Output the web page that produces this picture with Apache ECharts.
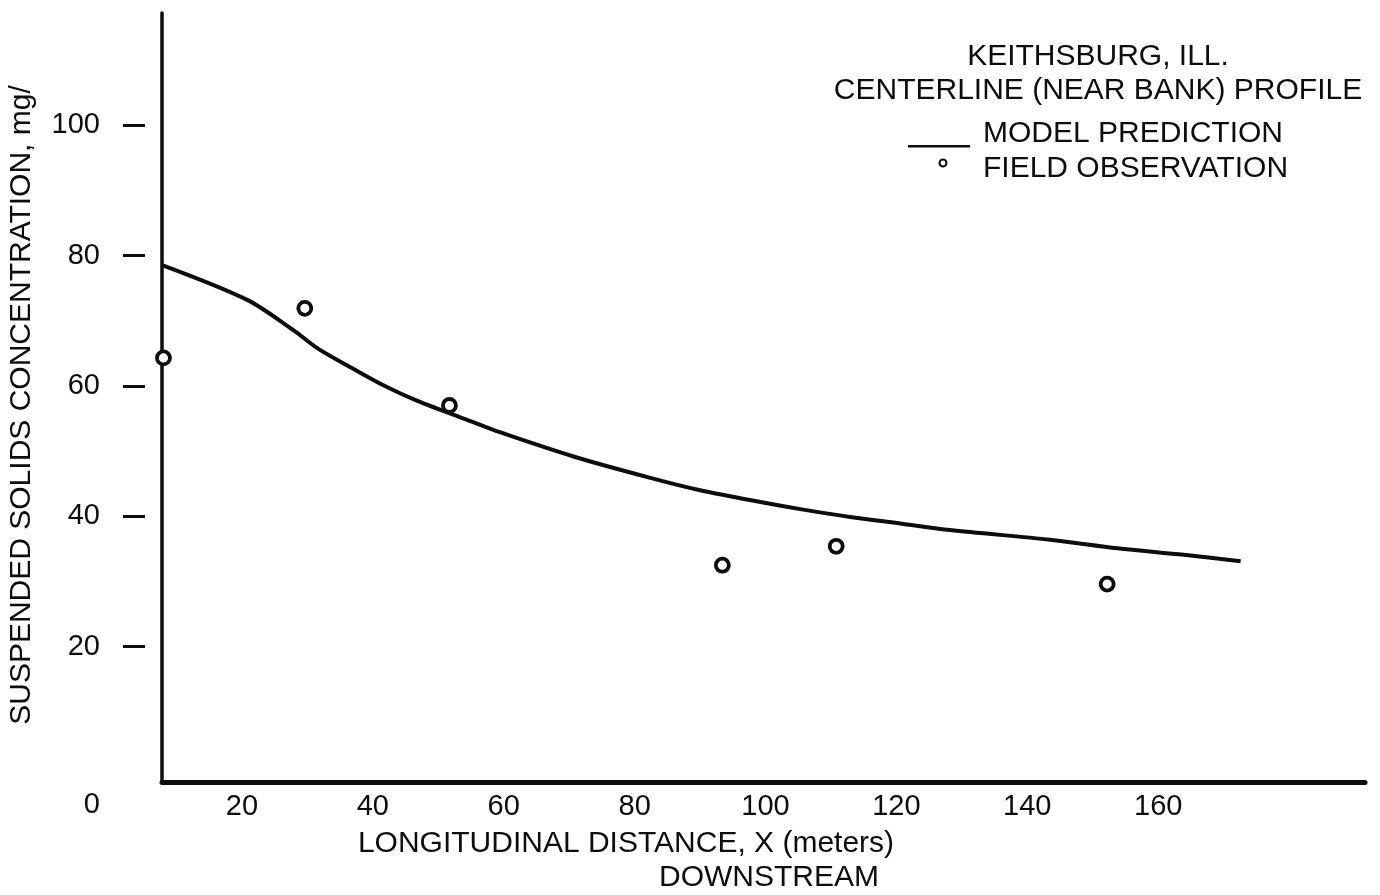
<!DOCTYPE html>
<html>
<head>
<meta charset="utf-8">
<script src="https://cdn.jsdelivr.net/npm/echarts@6/dist/echarts.min.js"></script>
<style>
  html, body { margin: 0; padding: 0; background: #fff; }
  #main { width: 1380px; height: 895px; }
</style>
</head>
<body>
<div id="main"></div>
<script>
// model prediction curve
const modelX = [7.9, 20.8, 27.8, 31.5, 36.5, 41.6, 46.8, 54.4, 59.4, 70.9, 82.4, 90.0, 97.6, 105.3, 112.9, 120.6, 128.2, 143.5, 153.8, 163.9, 172.6]
const modelY = [78.5, 73.2, 68.6, 65.8, 62.9, 60.1, 57.7, 54.8, 52.9, 49.1, 45.9, 44.0, 42.5, 41.1, 39.9, 38.9, 37.9, 36.4, 35.1, 34.1, 33.1]

// field observations
const obsX = [8.0, 29.6, 51.7, 93.4, 110.8, 152.2]
const obsY = [64.3, 71.9, 57.0, 32.5, 35.4, 29.6]

const xTicks = [20, 40, 60, 80, 100, 120, 140, 160]
const yTicks = [20, 40, 60, 80, 100]
const originLabel = '0'

const titleLines = ['KEITHSBURG, ILL.', 'CENTERLINE (NEAR BANK) PROFILE']
const seriesNames = ['MODEL PREDICTION', 'FIELD OBSERVATION']
const xTitle = ['LONGITUDINAL DISTANCE, X (meters)', 'DOWNSTREAM']
const yTitle = 'SUSPENDED SOLIDS CONCENTRATION, mg/'

const FONT = 'Liberation Sans, Arial, Helvetica, sans-serif'
const INK = '#0d0d0d'
const FS = 29
const FT = 30

const chart = echarts.init(document.getElementById('main'))

const yRange = { min: -0.83, max: 117.2 }

function txt(x, y, text, size, extra) {
  return Object.assign({
    type: 'text', x: x, y: y,
    style: { text: text, font: size + 'px ' + FONT, fill: INK, align: 'center', verticalAlign: 'middle' }
  }, extra || {})
}

const option = {
  animation: false,
  backgroundColor: '#fff',
  textStyle: { fontFamily: FONT, color: INK },
  grid: { left: 162, right: 15, top: 13, bottom: 112.5, outerBoundsMode: 'none' },
  xAxis: {
    type: 'value',
    min: 7.78,
    max: 191.6,
    axisLine: { onZero: false, lineStyle: { color: INK, width: 5 } },
    axisTick: { show: false },
    splitLine: { show: false },
    axisLabel: { customValues: xTicks, margin: 10, fontSize: FS, color: INK, fontFamily: FONT }
  },
  yAxis: [
    {
      type: 'value',
      min: yRange.min,
      max: yRange.max,
      axisLine: { show: true, lineStyle: { color: INK, width: 3.5 } },
      axisTick: { show: false },
      axisLabel: { show: false },
      splitLine: { show: false }
    },
    {
      // detached tick marks and labels, left of the axis line
      type: 'value',
      position: 'left',
      offset: 17,
      min: yRange.min,
      max: yRange.max,
      axisLine: { show: false },
      axisTick: { show: true, customValues: yTicks, length: 22, lineStyle: { color: INK, width: 3 } },
      axisLabel: { customValues: yTicks, margin: 45, fontSize: FS, color: INK, fontFamily: FONT },
      splitLine: { show: false }
    }
  ],
  legend: {
    orient: 'vertical',
    left: 903,
    top: 114,
    itemWidth: 62,
    itemHeight: 30,
    itemGap: 5,
    selectedMode: false,
    textStyle: { fontSize: FT, color: INK, fontFamily: FONT, padding: [0, 0, 0, 8] },
    data: [
      {
        name: seriesNames[0],
        icon: 'path://M0,0M62,30M0,26H62V28.5H0Z',
        itemStyle: { color: INK, borderWidth: 0 }
      },
      {
        name: seriesNames[1],
        icon: 'path://M0,0M62,30M30.5,9A4.5,4.5 0 1 1 39.5,9A4.5,4.5 0 1 1 30.5,9ZM32.6,9A2.4,2.4 0 1 0 37.4,9A2.4,2.4 0 1 0 32.6,9Z',
        itemStyle: { color: INK, borderWidth: 0 }
      }
    ]
  },
  graphic: [
    txt(1098, 57, titleLines[0], FT),
    txt(1098, 91, titleLines[1], FT),
    txt(626, 844, xTitle[0], FT),
    txt(769, 878, xTitle[1], FT),
    txt(100, 805, originLabel, FS, { style: { text: originLabel, font: FS + 'px ' + FONT, fill: INK, align: 'right', verticalAlign: 'middle' } }),
    txt(22, 405, yTitle, FT, { rotation: Math.PI / 2 })
  ],
  series: [
    {
      name: seriesNames[0],
      type: 'line',
      yAxisIndex: 0,
      smooth: 0.3,
      symbol: 'none',
      lineStyle: { color: INK, width: 4 },
      data: modelX.map((x, i) => [x, modelY[i]])
    },
    {
      name: seriesNames[1],
      type: 'scatter',
      yAxisIndex: 0,
      symbol: 'circle',
      symbolSize: 13,
      itemStyle: { color: '#fff', borderColor: INK, borderWidth: 3.8, opacity: 1 },
      z: 5,
      data: obsX.map((x, i) => [x, obsY[i]])
    }
  ]
}

chart.setOption(option)
</script>
</body>
</html>
